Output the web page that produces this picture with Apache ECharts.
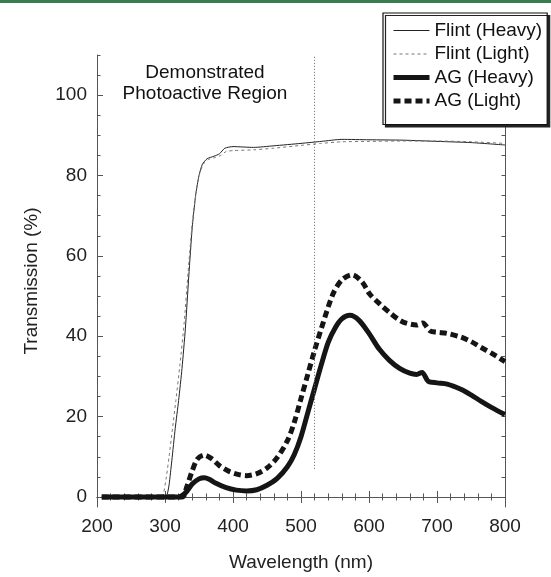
<!DOCTYPE html>
<html>
<head>
<meta charset="utf-8">
<script src="https://cdn.jsdelivr.net/npm/echarts@6/dist/echarts.min.js"></script>
<style>
html,body{margin:0;padding:0;background:#fff;}
#chart{width:551px;height:577px;}
</style>
</head>
<body>
<div id="chart"></div>
<script>
// ---- data (wavelength nm, transmission %) ----
var flintHeavy = [[207,0],[300,0],[303,0.5],[306,3],[310,9],[315,17],[320,24],[325,32],[330,42],[335,55],[340,67],[345,75],[350,80],[355,82.8],[362,84.2],[372,84.8],[380,85.4],[388,86.8],[400,87.2],[430,87],[460,87.4],[500,88],[530,88.5],[560,89],[600,88.9],[650,88.8],[700,88.5],[750,88.2],[800,87.6]];
var flintLight = [[207,0],[295,0],[298,1],[302,5],[306,10],[311,17],[316,24],[322,33],[328,43],[334,56],[340,68],[346,76],[351,80.5],[357,83],[364,84],[374,84.5],[382,85],[390,86],[400,86.2],[430,86.4],[460,86.8],[500,87.5],[530,88],[560,88.4],[600,88.5],[650,88.6],[700,88.6],[750,88.4],[800,88]];
var agHeavy = [[207,0],[320,0],[330,1],[340,3.2],[350,4.5],[358,4.8],[365,4.4],[375,3.4],[390,2.3],[405,1.7],[420,1.5],[435,1.8],[450,2.9],[465,4.6],[480,7.5],[490,10.5],[500,15],[510,21],[520,27],[530,33],[540,38.5],[550,42],[560,44.3],[572,45.2],[585,44],[600,40.7],[615,36.8],[630,34],[645,32],[660,30.8],[670,30.5],[678,31],[687,28.8],[700,28.4],[715,28.1],[735,26.8],[750,25.4],[765,23.8],[780,22.3],[800,20.5]];
var agLight = [[207,0],[325,0],[332,2.5],[340,6.5],[348,9.5],[358,10.4],[368,9.6],[380,7.8],[395,6.3],[410,5.5],[420,5.3],[435,5.8],[450,7.2],[465,9.8],[480,14],[490,18.5],[500,24.5],[510,30.5],[520,36.5],[530,42],[547,50.5],[560,54],[575,55.3],[590,53.5],[601,50.5],[616,48],[631,45.8],[645,44],[656,43.2],[670,42.8],[679,43.3],[690,41.3],[700,41],[715,40.7],[735,39.8],[750,38.7],[765,37.2],[780,35.8],[800,33.7]];
var seriesNames = ['Flint (Heavy)','Flint (Light)','AG (Heavy)','AG (Light)'];
var yLabelValues = [0,20,40,60,80,100];
var yMinorValues = [0,5,10,15,20,25,30,35,40,45,50,55,60,65,70,75,80,85,90,95,100,105,110];
var regionBoundary = 520;      // nm, dotted divider
var regionBoundaryRange = [7, 110];
var regionLabel = 'Demonstrated\nPhotoactive Region';

var FONT = '"Liberation Sans", Arial, Helvetica, sans-serif';
var chart = echarts.init(document.getElementById('chart'), null, {renderer:'canvas'});
var frameColor = '#555';
var tickStyleMajor = {show:true, inside:true, length:6, lineStyle:{color:frameColor, width:1}};
var option = {
  backgroundColor:'#fff',
  animation:false,
  textStyle:{fontFamily:FONT},
  grid:{left:97, right:46, top:55, bottom:66},
  legend:{
    orient:'vertical', left:383, top:13,
    data:seriesNames,
    itemWidth:36, itemHeight:14, itemGap:4.5,
    padding:[8,5,14,8],
    backgroundColor:'#fff', borderColor:'#111', borderWidth:1.2,
    shadowColor:'#222', shadowBlur:0, shadowOffsetX:2.5, shadowOffsetY:2.5,
    itemStyle:{opacity:0},
    lineStyle:{width:'inherit'},
    textStyle:{fontFamily:FONT, fontSize:19, color:'#111', lineHeight:19},
    selectedMode:false
  },
  xAxis:[{
    type:'value', min:200, max:800, interval:100, position:'bottom',
    name:'Wavelength (nm)', nameLocation:'middle', nameGap:46,
    nameTextStyle:{fontFamily:FONT, fontSize:19, color:'#222'},
    axisLine:{show:true, lineStyle:{color:frameColor, width:1}},
    axisTick:tickStyleMajor,
    minorTick:{show:true, splitNumber:5, length:3.5, lineStyle:{color:frameColor}},
    axisLabel:{fontFamily:FONT, fontSize:19, color:'#222', margin:10},
    splitLine:{show:false}
  },{
    type:'value', min:200, max:800, interval:100, position:'top',
    axisLine:{show:true, lineStyle:{color:frameColor, width:1}},
    axisTick:tickStyleMajor,
    minorTick:{show:true, splitNumber:5, length:3.5, lineStyle:{color:frameColor}},
    axisLabel:{show:false}, splitLine:{show:false}
  }],
  yAxis:[{
    type:'value', min:-2.5, max:110, position:'left',
    name:'Transmission (%)', nameLocation:'middle', nameGap:56,
    nameTextStyle:{fontFamily:FONT, fontSize:19, color:'#222'},
    axisLine:{show:true, lineStyle:{color:frameColor, width:1}},
    axisTick:{show:true, inside:true, length:6, customValues:yLabelValues, lineStyle:{color:frameColor}},
    axisLabel:{fontFamily:FONT, fontSize:19, color:'#222', margin:10, customValues:yLabelValues},
    splitLine:{show:false}
  },{
    type:'value', min:-2.5, max:110, position:'left',
    axisLine:{show:false},
    axisTick:{show:true, inside:true, length:3.5, customValues:yMinorValues, lineStyle:{color:frameColor}},
    axisLabel:{show:false, customValues:yLabelValues}, splitLine:{show:false}
  },{
    type:'value', min:-2.5, max:110, position:'right',
    axisLine:{show:true, lineStyle:{color:frameColor, width:1}},
    axisTick:{show:true, inside:true, length:3.5, customValues:yMinorValues, lineStyle:{color:frameColor}},
    axisLabel:{show:false, customValues:yLabelValues}, splitLine:{show:false}
  }],
  graphic:[
    {type:'rect', left:0, top:0, shape:{width:551, height:3}, style:{fill:'#3a7d52'}, z:100},
    {type:'text', x:205, y:62, style:{text:regionLabel, fontFamily:FONT, fontSize:19, fill:'#111', align:'center', lineHeight:21}, silent:true}
  ],
  series:[
    {name:seriesNames[0], type:'line', data:flintHeavy, symbol:'none', smooth:0.2, z:3,
     lineStyle:{color:'#222', width:1}, itemStyle:{color:'#222'},
     markLine:{silent:true, symbol:'none', label:{show:false},
       lineStyle:{color:'#666', width:1, type:[1,2]},
       data:[[{coord:[regionBoundary, regionBoundaryRange[0]]},{coord:[regionBoundary, regionBoundaryRange[1]]}]]}},
    {name:seriesNames[1], type:'line', data:flintLight, symbol:'none', smooth:0.2, z:3,
     lineStyle:{color:'#777', width:1, type:[3,3]}, itemStyle:{color:'#777'}},
    {name:seriesNames[2], type:'line', data:agHeavy, symbol:'none', smooth:0.3, z:4,
     lineStyle:{color:'#151515', width:5}, itemStyle:{color:'#151515'}},
    {name:seriesNames[3], type:'line', data:agLight, symbol:'none', smooth:0.3, z:4,
     lineStyle:{color:'#151515', width:5, type:[7,4]}, itemStyle:{color:'#151515'}}
  ]
};
chart.setOption(option);
</script>
</body>
</html>
